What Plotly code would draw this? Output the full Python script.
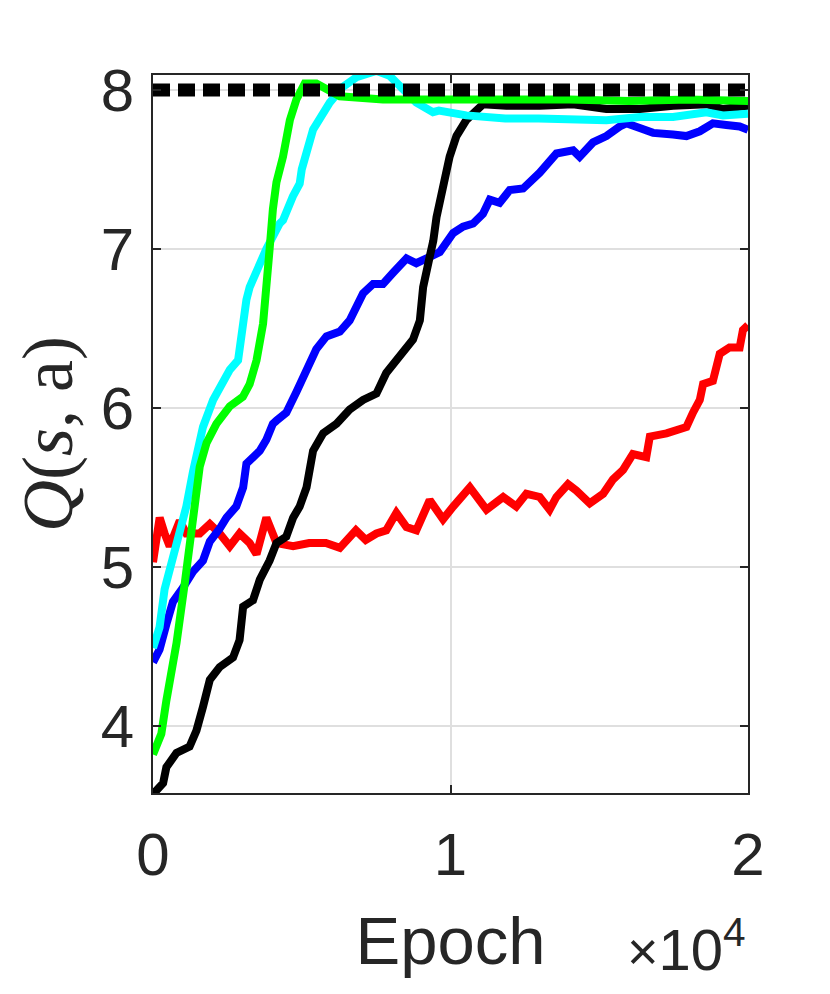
import plotly.graph_objects as go

# ---- data (epochs, Q values) ----
red_x = [0, 120, 224, 390, 560, 900, 1120, 1570, 1910, 2240, 2580, 2910, 3250, 3480, 3810, 4150, 4710,
         5250, 5810, 6280, 6820, 7150, 7510, 7840, 8180, 8520, 8850, 9300, 9750, 10090, 10530, 10650,
         11210, 11770, 12210, 12550, 13000, 13330, 13560, 13950, 14230, 14680, 15130, 15460, 15800,
         16130, 16580, 16700, 17260, 17700, 17930, 18150, 18380, 18490, 18820, 19050, 19380, 19720,
         19830, 20000]
red_y = [5.03, 5.20, 5.31, 5.21, 5.13, 5.29, 5.21, 5.21, 5.27, 5.21, 5.13, 5.21, 5.15, 5.08, 5.31, 5.15, 5.13,
         5.15, 5.15, 5.12, 5.23, 5.17, 5.21, 5.23, 5.34, 5.25, 5.23, 5.42, 5.30, 5.38, 5.48, 5.50,
         5.36, 5.44, 5.38, 5.46, 5.44, 5.36, 5.44, 5.52, 5.48, 5.40, 5.46, 5.55, 5.61,
         5.71, 5.69, 5.82, 5.84, 5.86, 5.88, 5.97, 6.05, 6.15, 6.17, 6.34, 6.38, 6.38,
         6.49, 6.52]

blue_x = [0, 220, 450, 670, 1010, 1345, 1680, 1910, 2240, 2470, 2800, 3030, 3140, 3480, 3590, 3810, 4030,
          4150, 4480, 4820, 5160, 5490, 5830, 6280, 6610, 6720, 7060, 7400, 7730, 8070, 8520, 8850, 9300,
          9640, 10090, 10420, 10760, 11090, 11320, 11650, 11990, 12440, 13000, 13560, 14120, 14340, 14790,
          15240, 15690, 15910, 16360, 16810, 17480, 17930, 18380, 18820, 19270, 19720, 20000]
blue_y = [4.40, 4.48, 4.64, 4.78, 4.87, 4.97, 5.04, 5.16, 5.24, 5.31, 5.38, 5.50, 5.65, 5.71, 5.73, 5.80, 5.90,
          5.92, 5.97, 6.10, 6.25, 6.37, 6.45, 6.48, 6.55, 6.59, 6.72, 6.78, 6.78, 6.85, 6.94, 6.91, 6.95,
          6.98, 7.10, 7.14, 7.16, 7.22, 7.31, 7.29, 7.37, 7.38, 7.48, 7.60, 7.62, 7.58, 7.67,
          7.71, 7.77, 7.79, 7.76, 7.73, 7.72, 7.71, 7.74, 7.79, 7.78, 7.77, 7.75]

black_x = [0, 340, 450, 790, 1230, 1460, 1680, 1910, 2240, 2690, 2910, 3030, 3360, 3590, 3920, 4150, 4480,
           4710, 4930, 5160, 5380, 5720, 6170, 6610, 7060, 7510, 7840, 8290, 8740, 8970, 9080, 9300, 9420,
           9530, 9750, 9970, 10200, 10530, 11090, 11880, 13000, 14120, 15240, 16360, 17480, 18600, 19160,
           20000]
black_y = [3.57, 3.64, 3.74, 3.83, 3.87, 3.97, 4.12, 4.29, 4.37, 4.43, 4.54, 4.75, 4.79, 4.92, 5.04, 5.15, 5.19,
           5.31, 5.38, 5.50, 5.73, 5.84, 5.90, 5.99, 6.05, 6.09, 6.22, 6.32, 6.43, 6.55, 6.76, 6.95, 7.05,
           7.20, 7.39, 7.58, 7.71, 7.81, 7.91, 7.90, 7.90, 7.91, 7.88, 7.88, 7.90, 7.91, 7.88,
           7.90]

cyan_x = [0, 220, 390, 670, 900, 1120, 1345, 1680, 2020, 2240, 2580, 2860, 2970, 3140, 3250, 3480, 3700,
          3810, 4260, 4370, 4700, 4930, 5000, 5210, 5380, 5940, 6390, 6840, 7510, 7950, 8290, 8850, 9410,
          9610, 10530, 11840, 12960, 14080, 15240, 16360, 17480, 18600, 19160, 20000]
cyan_y = [4.49, 4.62, 4.86, 5.06, 5.22, 5.38, 5.60, 5.88, 6.05, 6.13, 6.24, 6.30, 6.47, 6.68, 6.76, 6.87, 6.95,
          7.00, 7.16, 7.18, 7.33, 7.41, 7.50, 7.62, 7.75, 7.92, 8.02, 8.08, 8.12, 8.09, 8.02, 7.92, 7.86,
          7.87, 7.84, 7.82, 7.82, 7.82, 7.81, 7.83, 7.83, 7.86, 7.84, 7.85]

green_x = [0, 280, 450, 790, 1070, 1345, 1570, 1800, 2130, 2580, 3020, 3250, 3480, 3700, 3810, 3920, 4030,
           4150, 4370, 4600, 4820, 5100, 5490, 5830, 6280, 7730, 8850, 10530, 12000, 14000, 16000, 18000, 20000]
green_y = [3.82, 3.95, 4.16, 4.52, 4.90, 5.29, 5.63, 5.78, 5.90, 6.01, 6.07, 6.15, 6.30, 6.53, 6.72, 7.00, 7.25,
           7.42, 7.58, 7.81, 7.94, 8.04, 8.04, 8.00, 7.96, 7.94, 7.94, 7.95, 7.95, 7.94, 7.93, 7.94, 7.93]

optimal_x = [0, 20000]
optimal_y = [8, 8]

x_tickvals = [0, 10000, 20000]
x_ticktext = ["0", "1", "2"]
y_tickvals = [4, 5, 6, 7, 8]
y_ticktext = ["4", "5", "6", "7", "8"]

AX = "#262626"
FONT = "Liberation Sans, Arial, sans-serif"

fig = go.Figure()
for xs, ys, col in [(red_x, red_y, "#ff0000"), (blue_x, blue_y, "#0000ff"), (black_x, black_y, "#000000"),
                    (cyan_x, cyan_y, "#00ffff"), (green_x, green_y, "#00ff00")]:
    fig.add_trace(go.Scatter(x=xs, y=ys, mode="lines", line=dict(color=col, width=8), showlegend=False))
fig.add_trace(go.Scatter(x=optimal_x, y=optimal_y, mode="lines",
                         line=dict(color="#000000", width=13, dash="17px,8px"), showlegend=False))

axis_common = dict(showline=True, linecolor=AX, linewidth=2, mirror="ticks", ticks="inside",
                   ticklen=8, tickwidth=2, tickcolor=AX, showgrid=True, gridcolor="#dfdfdf",
                   gridwidth=1.5, zeroline=False, automargin=False,
                   tickfont=dict(family=FONT, size=60, color=AX))

fig.update_xaxes(range=[0, 20000], tickvals=x_tickvals, ticktext=x_ticktext, ticklabelstandoff=8,
                 title=dict(text="Epoch", font=dict(family=FONT, size=67, color=AX), standoff=30),
                 **axis_common)
fig.update_yaxes(range=[3.578, 8.094], tickvals=y_tickvals, ticktext=y_ticktext, ticklabelstandoff=5,
                 title=dict(text="<i>Q</i>(<i>s</i>, a)", standoff=16,
                            font=dict(family="Liberation Serif, Times New Roman, serif", size=72, color=AX)),
                 **axis_common)

fig.add_annotation(text="<span style='font-size:54px'>×</span>10<sup>4</sup>",
                   xref="paper", yref="paper", x=1.0, y=-0.212,
                   xanchor="right", yanchor="middle", showarrow=False,
                   font=dict(family=FONT, size=58, color=AX))

fig.update_layout(width=814, height=978, margin=dict(l=145, r=74, t=67, b=193),
                  paper_bgcolor="white", plot_bgcolor="white")
fig.write_html("out.html")
